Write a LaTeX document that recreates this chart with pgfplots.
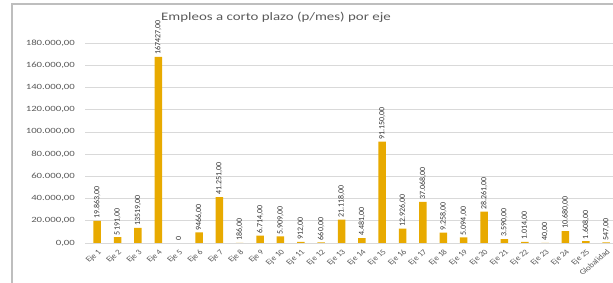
\documentclass[border=0pt]{standalone}
\usepackage{pgfplots}
\pgfplotsset{compat=1.18}
\usepackage{pgfplotstable}
\usepackage{fontspec}
\setmainfont{Carlito}
\definecolor{barc}{RGB}{232,170,0}
\definecolor{txt}{RGB}{89,89,89}
\definecolor{grd}{RGB}{217,217,217}
\definecolor{frm}{RGB}{190,190,190}
\pgfplotstableread{
x y lab
0 19863 19.863,00
1 5191 5191,00
2 13519 13519,00
3 167427 167427,00
4 0 0
5 9466 9466,00
6 41251 41.251,00
7 186 186,00
8 6714 6.714,00
9 5909 5.909,00
10 912 912,00
11 660 660,00
12 21118 21.118,00
13 4481 4.481,00
14 91150 91.150,00
15 12926 12.926,00
16 37068 37.068,00
17 9258 9.258,00
18 5094 5.094,00
19 28261 28.261,00
20 3590 3.590,00
21 1014 1.014,00
22 40 40,00
23 10680 10.680,00
24 1608 1.608,00
25 547 547,00
}\datatable
\begin{document}
\begin{tikzpicture}
\useasboundingbox (0,0) rectangle (613bp,283bp);
\clip (0,0) rectangle (613bp,283bp);
\begin{axis}[
  at={(85bp,40bp)}, anchor=south west, scale only axis,
  width=533.4bp, height=200bp,
  xmin=-0.6, xmax=25.6, ymin=0, ymax=180000,
  ybar, bar width=7.5bp, bar shift=0pt,
  axis line style={draw=none}, tick style={draw=none},
  ymajorgrids, grid style={grd, line width=0.7pt},
  ytick={0,20000,...,180000},
  scaled y ticks=false,
  xtick={0,...,25},
  xticklabels={Eje 1,Eje 2,Eje 3,Eje 4,Eje 5,Eje 6,Eje 7,Eje 8,Eje 9,Eje 10,Eje 11,Eje 12,Eje 13,Eje 14,Eje 15,Eje 16,Eje 17,Eje 18,Eje 19,Eje 20,Eje 21,Eje 22,Eje 23,Eje 24,Eje 25,Globalidad},
  xticklabel style={font=\fontsize{7.5}{8}\selectfont, text=txt, xscale=1.2, rotate=45, anchor=north east, inner sep=1pt},
  yticklabel style={font=\fontsize{8}{9}\selectfont, text=txt, xscale=1.35, anchor=east, xshift=-4bp},
  /pgf/number format/fixed,
  /pgf/number format/fixed zerofill,
  /pgf/number format/precision=2,
  /pgf/number format/use comma,
  /pgf/number format/1000 sep={.},
  /pgf/number format/assume math mode=true,
  nodes near coords,
  point meta=explicit symbolic,
  every node near coord/.append style={font=\fontsize{8}{9}\selectfont, text=black!80, rotate=90, anchor=west, inner sep=2pt},
]
\addplot[fill=barc, draw=none] table[x=x, y=y, meta=lab] {\datatable};
\end{axis}
\draw[frm, line width=1.6bp] (12bp,-10bp) -- (12bp,279bp) -- (640bp,279bp);
\node[text=txt, font=\fontsize{11.5}{13}\selectfont, xscale=1.3] at (276bp,266bp) {Empleos a corto plazo (p/mes) por eje};
\end{tikzpicture}
\end{document}
